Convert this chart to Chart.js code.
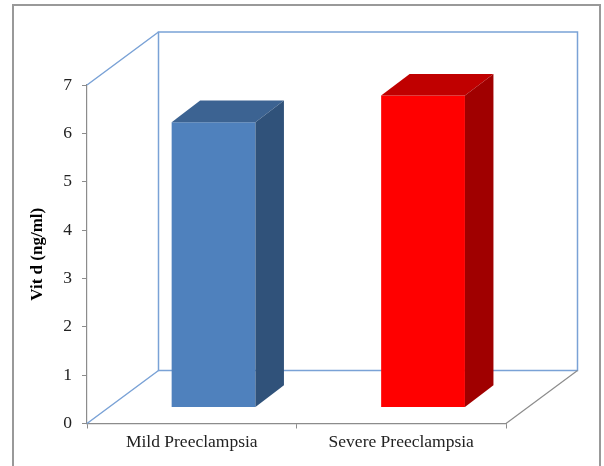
<!DOCTYPE html>
<html>
<head>
<meta charset="utf-8">
<script src="https://cdn.jsdelivr.net/npm/chart.js@4"></script>
<style>
  body { margin: 0; background: #fff; }
  #wrap { width: 604px; height: 466px; }
</style>
</head>
<body>
<div id="wrap"><canvas id="myChart" width="604" height="466"></canvas></div>
<script>
var categories = ['Mild Preeclampsia', 'Severe Preeclampsia'];
var vitD = [5.9, 6.45];
var frontColors = ['#4F81BD', '#FF0000'];
var topColors = ['#3C6392', '#C00000'];
var sideColors = ['#30527A', '#A00000'];
var yTicks = [0, 1, 2, 3, 4, 5, 6, 7];

// 3d look: depth of the box and of each column
var wallDepth = { x: 71.5, y: -53 };
var barShift = { x: 21.8, y: -16 };
var barDepth = { x: 28.5, y: -21.7 };

var serif = "'Liberation Serif', 'Times New Roman', serif";

var box3d = {
    id: 'box3d',
    beforeDraw: function(chart) {
        var c = chart.ctx;
        c.save();
        c.strokeStyle = '#999';
        c.lineWidth = 2;
        c.strokeRect(13, 5, 587, 520);
        c.restore();
    },
    beforeDatasetsDraw: function(chart) {
        var c = chart.ctx, a = chart.chartArea;
        var dx = wallDepth.x, dy = wallDepth.y;
        c.save();
        c.lineWidth = 1.5;
        c.strokeStyle = '#7AA2D6';
        c.strokeRect(a.left + dx, a.top + dy, a.right - a.left, a.bottom - a.top);
        c.beginPath();
        c.moveTo(a.left, a.top); c.lineTo(a.left + dx, a.top + dy);
        c.moveTo(a.left, a.bottom); c.lineTo(a.left + dx, a.bottom + dy);
        c.stroke();
        c.lineWidth = 1.2;
        c.strokeStyle = '#8C8C8C';
        c.beginPath();
        c.moveTo(a.right, a.bottom); c.lineTo(a.right + dx, a.bottom + dy);
        c.stroke();
        c.restore();
        // columns stand in the middle of the floor
        c.save();
        c.translate(barShift.x, barShift.y);
    },
    afterDatasetsDraw: function(chart) {
        var c = chart.ctx;
        var meta = chart.getDatasetMeta(0);
        meta.data.forEach(function(bar, i) {
            var l = bar.x - bar.width / 2, r = bar.x + bar.width / 2;
            var t = bar.y, b = bar.base;
            var dx = barDepth.x, dy = barDepth.y;
            c.fillStyle = topColors[i];
            c.beginPath();
            c.moveTo(l, t); c.lineTo(l + dx, t + dy); c.lineTo(r + dx, t + dy); c.lineTo(r, t);
            c.closePath(); c.fill();
            c.fillStyle = sideColors[i];
            c.beginPath();
            c.moveTo(r, t); c.lineTo(r + dx, t + dy); c.lineTo(r + dx, b + dy); c.lineTo(r, b);
            c.closePath(); c.fill();
        });
        c.restore();
    }
};

var ctx = document.getElementById('myChart').getContext('2d');
var myChart = new Chart(ctx, {
    type: 'bar',
    data: {
        labels: categories,
        datasets: [{
            data: vitD,
            backgroundColor: frontColors,
            borderWidth: 0,
            barPercentage: 0.4,
            categoryPercentage: 1.0
        }]
    },
    plugins: [box3d],
    options: {
        responsive: false,
        animation: false,
        layout: { padding: { left: 0, top: 85, right: 98, bottom: 0 } },
        plugins: {
            legend: { display: false },
            tooltip: { enabled: false }
        },
        scales: {
            y: {
                min: 0,
                max: 7,
                afterFit: function(scale) { scale.width = 87; },
                afterBuildTicks: function(scale) {
                    scale.ticks = yTicks.map(function(v) { return { value: v }; });
                },
                border: { color: '#8C8C8C', width: 1.2 },
                grid: { drawOnChartArea: false, tickLength: 5, color: '#8C8C8C' },
                ticks: { padding: 10, color: '#222', font: { family: serif, size: 17.5 } },
                title: {
                    display: true,
                    text: 'Vit d (ng/ml)',
                    color: '#000',
                    padding: { top: 27, bottom: 0 },
                    font: { family: serif, size: 17, weight: 'bold' }
                }
            },
            x: {
                afterFit: function(scale) { scale.height = 42.5; },
                border: { color: '#8C8C8C', width: 1.2 },
                grid: { drawOnChartArea: false, offset: true, tickLength: 5, color: '#8C8C8C' },
                ticks: { padding: 3, color: '#222', font: { family: serif, size: 17.5 } }
            }
        }
    }
});
</script>
</body>
</html>
